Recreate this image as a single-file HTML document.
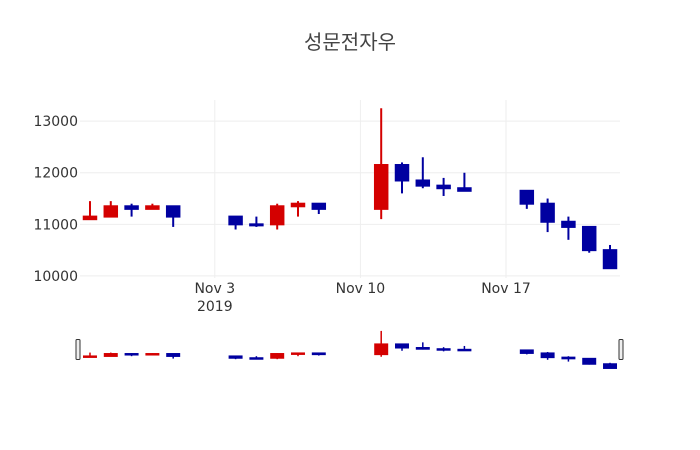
<!DOCTYPE html>
<html><head><meta charset="utf-8"><style>
body{margin:0;background:#fff;}
svg{display:block;font-family:"DejaVu Sans","Noto Sans CJK KR",sans-serif;}
</style></head><body>
<svg id="chart" width="700" height="450">
<text x="350" y="49" text-anchor="middle" font-size="20" fill="#444" font-family="'Noto Sans CJK KR',sans-serif">성문전자우</text>
<g id="grid"></g>
<g id="ylabels"></g>
<g id="xlabels"></g>
<g id="candles"></g>
<g id="slider"></g>
</svg>
<script>
const dates=["2019-10-28","2019-10-29","2019-10-30","2019-10-31","2019-11-01","2019-11-04","2019-11-05","2019-11-06","2019-11-07","2019-11-08","2019-11-11","2019-11-12","2019-11-13","2019-11-14","2019-11-15","2019-11-18","2019-11-19","2019-11-20","2019-11-21","2019-11-22"];
const openV=[11100,11150,11350,11300,11350,11150,11000,11000,11350,11400,11300,12150,11850,11750,11700,11650,11400,11050,10950,10500];
const highV=[11450,11450,11400,11400,11350,11150,11150,11400,11450,11400,13250,12200,12300,11900,12000,11650,11500,11150,10950,10600];
const lowV=[11100,11150,11150,11300,10950,10900,10950,10900,11150,11200,11100,11600,11700,11550,11650,11300,10850,10700,10450,10150];
const closeV=[11150,11350,11300,11350,11150,11000,10980,11350,11400,11300,12150,11850,11750,11700,11650,11400,11050,10950,10500,10150];
const yTicks=[10000,11000,12000,13000];
const xTicks=["2019-11-03","2019-11-10","2019-11-17"];
const xTickLabels=["Nov 3","Nov 10","Nov 17"];

const NS="http://www.w3.org/2000/svg";
const day=86400000;
const t=d=>Date.parse(d+"T00:00:00Z");
const x0=t(dates[0])-day*0.48, x1=t(dates[dates.length-1])+day*0.48;
const L=80,R=620;
const xs=d=>L+(t(d)-x0)/(x1-x0)*(R-L);
const yMin=9960,yMax=13410;
const ys=v=>278-(v-yMin)/(yMax-yMin)*(278-100);
const sMin=9960,sMax=13410;
const ss=v=>370.5-(v-sMin)/(sMax-sMin)*(370.5-329);
function el(tag,a,p){const e=document.createElementNS(NS,tag);for(const k in a)e.setAttribute(k,a[k]);p.appendChild(e);return e;}
const grid=document.getElementById('grid'),yl=document.getElementById('ylabels'),xl=document.getElementById('xlabels');
yTicks.forEach(v=>{
 const g=el('line',{x1:L,x2:R,y1:ys(v),y2:ys(v),stroke:'#eee','stroke-width':1},grid);
 
 
 const tx=el('text',{x:L-2,y:ys(v)+5,'text-anchor':'end','font-size':14,fill:'#333'},yl);
 tx.textContent=v;
 
 
});
xTicks.forEach((d,i)=>{
 const g=el('line',{x1:xs(d),x2:xs(d),y1:100,y2:278,stroke:'#eee','stroke-width':1},grid);
 
 
 const tx=el('text',{x:xs(d),y:293,'text-anchor':'middle','font-size':14,fill:'#333'},xl);
 tx.textContent=xTickLabels[i];
 
 
});
const yr=el('text',{x:xs(xTicks[0]),y:311,'text-anchor':'middle','font-size':14,fill:'#333'},xl);
yr.textContent="2019";


const cg=document.getElementById('candles'),sg=document.getElementById('slider');
const bw=day*0.6/(x1-x0)*(R-L);
function candle(i,sc,parent,lw){
 const up=closeV[i]>=openV[i];const col=up?'#d40000':'#0000a0';
 const cx=xs(dates[i]);
 const g=el('g',{},parent);
 
 
 el('line',{x1:cx,x2:cx,y1:sc(highV[i]),y2:sc(lowV[i]),stroke:col,'stroke-width':lw},g);
 const top=sc(Math.max(openV[i],closeV[i])),bot=sc(Math.min(openV[i],closeV[i]));
 el('rect',{x:cx-bw/2,y:top,width:bw,height:Math.max(bot-top,1),fill:col,stroke:col,'stroke-width':lw},g);
}
for(let i=0;i<dates.length;i++)candle(i,ys,cg,2);
const sb=el('rect',{x:L,y:329,width:R-L,height:42,fill:'#fff',stroke:'none'},sg);


for(let i=0;i<dates.length;i++)candle(i,ss,sg,1.5);
[L-2,R+1].forEach((hx,k)=>{
 const h=el('rect',{x:hx-2,y:339.5,width:4,height:20,rx:1,fill:'#eee',stroke:'#333','stroke-width':1},sg);
 
 
});
</script>
</body></html>
